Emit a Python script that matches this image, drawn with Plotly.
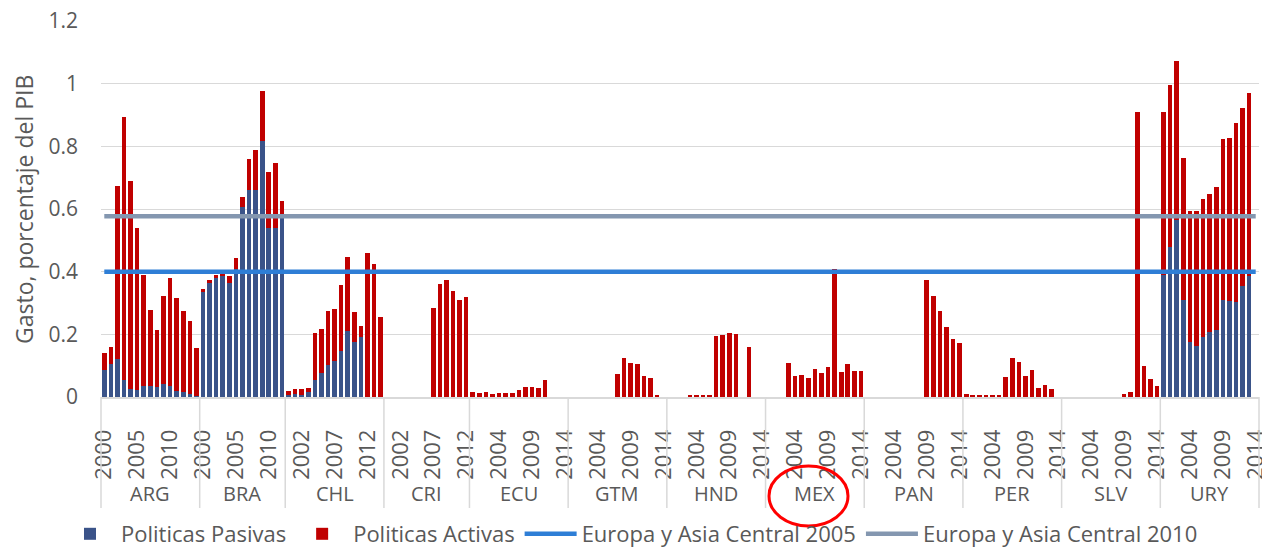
import plotly.graph_objects as go

# ---------------- data ----------------
countries = ["ARG", "BRA", "CHL", "CRI", "ECU", "GTM", "HND", "MEX", "PAN", "PER", "SLV", "URY"]
first_year = [2000, 2000, 2000, 2000, 2000, 2000, 2000, 2000, 2000, 2000, 2000, 2000]
last_year = [2014, 2012, 2014, 2012, 2014, 2014, 2014, 2014, 2014, 2014, 2014, 2014]

N = None
arg_pasivas = [0.085, 0.105, 0.12, 0.054, 0.025, 0.022, 0.035, 0.035, 0.032, 0.042, 0.034, 0.02, 0.016, 0.01, 0.003]
arg_activas = [0.054, 0.055, 0.553, 0.84, 0.664, 0.517, 0.355, 0.242, 0.183, 0.279, 0.346, 0.297, 0.258, 0.233, 0.154]

bra_pasivas = [0.335, 0.364, 0.38, 0.385, 0.363, 0.409, 0.606, 0.662, 0.662, 0.816, 0.54, 0.54, 0.575]
bra_activas = [0.01, 0.008, 0.01, 0.013, 0.024, 0.035, 0.032, 0.098, 0.125, 0.162, 0.178, 0.206, 0.052]

chl_pasivas = [0.0075, 0.009, 0.0065, 0.015, 0.053, 0.078, 0.102, 0.116, 0.148, 0.211, 0.175, 0.192, 0, 0, 0]
chl_activas = [0.0125, 0.018, 0.0185, 0.014, 0.151, 0.139, 0.173, 0.166, 0.208, 0.235, 0.097, 0.034, 0.461, 0.426, 0.256]

cri_pasivas = [N, N, N, N, N, N, N, 0, 0, 0, 0, 0, 0]
cri_activas = [N, N, N, N, N, N, N, 0.284, 0.362, 0.373, 0.338, 0.309, 0.32]

ecu_pasivas = [0, 0, 0, 0, 0, 0, 0, 0, 0, 0, 0, 0, N, N, N]
ecu_activas = [0.015, 0.013, 0.015, 0.011, 0.012, 0.014, 0.014, 0.0215, 0.032, 0.032, 0.03, 0.054, N, N, N]

gtm_pasivas = [N, N, N, N, N, N, N, 0, 0, 0, 0, 0, 0, 0, N]
gtm_activas = [N, N, N, N, N, N, N, 0.075, 0.126, 0.109, 0.104, 0.066, 0.061, 0.004, N]

hnd_pasivas = [N, N, N, 0, 0, 0, 0, 0, 0, 0, 0, N, 0, N, N]
hnd_activas = [N, N, N, 0.004, 0.004, 0.004, 0.004, 0.194, 0.199, 0.205, 0.201, N, 0.161, N, N]

mex_pasivas = [N, N, N, 0, 0, 0, 0, 0, 0, 0, 0, 0, 0, 0, 0]
mex_activas = [N, N, N, 0.108, 0.066, 0.069, 0.062, 0.088, 0.077, 0.095, 0.407, 0.081, 0.104, 0.082, 0.084]

pan_pasivas = [N, N, N, N, N, N, N, N, N, 0, 0, 0, 0, 0, 0]
pan_activas = [N, N, N, N, N, N, N, N, N, 0.373, 0.323, 0.274, 0.222, 0.185, 0.171]

per_pasivas = [0, 0, 0, 0, 0, 0, 0, 0, 0, 0, 0, 0, 0, 0, N]
per_activas = [0.0086, 0.005, 0.005, 0.005, 0.005, 0.005, 0.063, 0.124, 0.111, 0.068, 0.086, 0.028, 0.039, 0.025, N]

slv_pasivas = [N, N, N, N, N, N, N, N, N, 0, 0, 0, 0, 0, 0]
slv_activas = [N, N, N, N, N, N, N, N, N, 0.0085, 0.015, 0.91, 0.098, 0.057, 0.035]

ury_pasivas = [0.39, 0.478, 0.566, 0.309, 0.174, 0.163, 0.19, 0.208, 0.214, 0.311, 0.307, 0.303, 0.353, 0.387, N]
ury_activas = [0.52, 0.517, 0.507, 0.454, 0.42, 0.431, 0.441, 0.439, 0.457, 0.512, 0.52, 0.573, 0.568, 0.582, N]

pasivas_by_country = [arg_pasivas, bra_pasivas, chl_pasivas, cri_pasivas, ecu_pasivas, gtm_pasivas,
                      hnd_pasivas, mex_pasivas, pan_pasivas, per_pasivas, slv_pasivas, ury_pasivas]
activas_by_country = [arg_activas, bra_activas, chl_activas, cri_activas, ecu_activas, gtm_activas,
                      hnd_activas, mex_activas, pan_activas, per_activas, slv_activas, ury_activas]

europa_asia_2005 = 0.40
europa_asia_2010 = 0.577

# ---------------- build category axis ----------------
x_idx, years, pas_all, act_all = [], [], [], []
group_start, group_len = [], []
i = 0
for c, fy, ly, pas, act in zip(countries, first_year, last_year, pasivas_by_country, activas_by_country):
    yrs = list(range(fy, ly + 1))
    group_start.append(i)
    group_len.append(len(yrs))
    for k, y in enumerate(yrs):
        x_idx.append(i)
        years.append(y)
        pas_all.append(pas[k])
        act_all.append(act[k])
        i += 1
n_cat = i

tickvals = x_idx[::5]
ticktext = [str(y) for y in years[::5]]

TXT = "#595959"
FONT = "Open Sans"

fig = go.Figure()
fig.add_trace(go.Bar(x=x_idx, y=pas_all, name="Politicas Pasivas",
                     marker=dict(color="#3A5389", line=dict(width=0))))
fig.add_trace(go.Bar(x=x_idx, y=act_all, name="Politicas Activas",
                     marker=dict(color="#C00000", line=dict(width=0))))
fig.add_trace(go.Scatter(x=x_idx, y=[europa_asia_2005] * n_cat, mode="lines",
                         name="Europa y Asia Central 2005",
                         line=dict(color="#2E7ED6", width=4.5)))
fig.add_trace(go.Scatter(x=x_idx, y=[europa_asia_2010] * n_cat, mode="lines",
                         name="Europa y Asia Central 2010",
                         line=dict(color="#8497B0", width=4.5)))

# plot geometry (pixels)
L, R, T, B = 101, 3, 21, 150
W, H = 1262, 547
plot_h = H - T - B

def py(pix):
    return (H - B - pix) / plot_h

shapes = []
for s in group_start + [n_cat]:
    xp = s / n_cat
    shapes.append(dict(type="line", xref="paper", yref="paper", x0=xp, x1=xp,
                       y0=0, y1=py(508), line=dict(color="#D9D9D9", width=1.5)))
# red circle around MEX
shapes.append(dict(type="circle", xref="paper", yref="paper",
                   x0=(769 - L) / (W - L - R), x1=(848 - L) / (W - L - R),
                   y0=py(526), y1=py(466), line=dict(color="#FF0000", width=3)))

annotations = []
for c, s, n in zip(countries, group_start, group_len):
    annotations.append(dict(x=s + (n - 1) / 2, y=py(493), xref="x", yref="paper",
                            text=c, showarrow=False, font=dict(size=20, color=TXT, family=FONT),
                            xanchor="center", yanchor="middle"))
annotations.append(dict(x=(24 - L) / (W - L - R), y=py(210), xref="paper", yref="paper",
                        text="Gasto, porcentaje del PIB", textangle=-90, showarrow=False,
                        font=dict(size=23, color=TXT, family=FONT),
                        xanchor="center", yanchor="middle"))

fig.update_layout(
    width=W, height=H,
    margin=dict(l=L, r=R, t=T, b=B, autoexpand=False),
    paper_bgcolor="white", plot_bgcolor="white",
    barmode="stack", bargap=0.3,
    font=dict(family=FONT, color=TXT, size=20),
    shapes=shapes, annotations=annotations,
    legend=dict(orientation="h", xref="container", yref="container",
                x=0.5, xanchor="center", y=1 - 534 / H, yanchor="middle",
                bgcolor="rgba(0,0,0,0)",
                font=dict(size=22, color=TXT, family=FONT), traceorder="normal",
                itemwidth=52),
    xaxis=dict(range=[-0.5, n_cat - 0.5], tickmode="array", tickvals=tickvals, ticktext=ticktext,
               tickangle=-90, showgrid=False, zeroline=False, showline=True,
               linecolor="#D9D9D9", linewidth=1.5, ticks="", ticklabelstandoff=22,
               ticklabeloverflow="allow",
               automargin=False, tickfont=dict(size=22, color=TXT, family=FONT)),
    yaxis=dict(range=[0, 1.2], dtick=0.2, tick0=0, showgrid=True, gridcolor="#D9D9D9",
               gridwidth=1.3, zeroline=False, showline=False, ticks="", automargin=False,
               ticklabelstandoff=22, tickfont=dict(size=21, color=TXT, family=FONT)),
)

fig.write_html("out.html", config={"displayModeBar": False},
               post_script="document.body.style.margin='0';document.body.style.padding='0';")
